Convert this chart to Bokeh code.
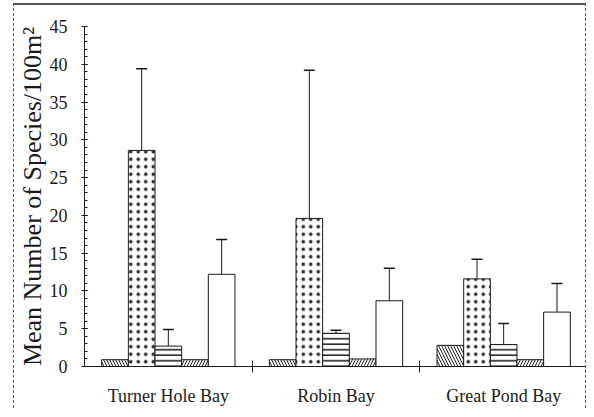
from bokeh.plotting import figure
from bokeh.models import Range1d, FixedTicker, SingleIntervalTicker, ColumnDataSource, Whisker, TeeHead
from bokeh.embed import file_html
from bokeh.resources import INLINE

# ---- data ----
sites = ["Turner Hole Bay", "Robin Bay", "Great Pond Bay"]
hatched_back = [0.9, 0.9, 2.8]
dotted = [28.6, 19.6, 11.6]
dotted_err = [10.8, 19.6, 2.6]
lined = [2.7, 4.4, 2.9]
lined_err = [2.2, 0.4, 2.8]
hatched_fwd = [0.9, 1.0, 0.9]
open_bar = [12.2, 8.7, 7.2]
open_err = [4.6, 4.3, 3.8]
y_ticks_major = 5

series = [hatched_back, dotted, lined, hatched_fwd, open_bar]
errors = [None, dotted_err, lined_err, None, open_err]

# ---- styles ----
patterns = ["\\", ".", "-", "/", " "]
hscales = [6, 7.5, 5.5, 6, 6]
hweights = [1, 0.9, 1.6, 1, 1]
hcolors = ["#222", "#333", "#222", "#222", "#222"]
bar_w = 0.159
FONT = "Liberation Serif"
INK = "#1a1a1a"

p = figure(width=573, height=405, x_range=Range1d(0, 3), y_range=Range1d(0, 45),
           output_backend="svg", toolbar_location=None,
           min_border_left=67, min_border_right=0, min_border_top=21, min_border_bottom=44)
p.margin = (3, 0, 0, 13)
p.styles = {"border-top": "2px solid #555", "border-left": "1px dashed #555",
            "border-right": "1px dashed #555"}
p.outline_line_color = None
p.grid.visible = False
p.background_fill_color = "white"
p.border_fill_color = "white"

for k, (vals, errs) in enumerate(zip(series, errors)):
    xs = [i + 0.5 + (k - 2) * bar_w for i in range(len(sites))]
    src = ColumnDataSource(dict(x=xs, top=vals))
    p.vbar(x="x", top="top", width=bar_w, bottom=0, source=src,
           fill_color="white", line_color=INK, line_width=1,
           hatch_pattern=patterns[k], hatch_color=hcolors[k],
           hatch_scale=hscales[k], hatch_weight=hweights[k])
    if errs is not None:
        esrc = ColumnDataSource(dict(x=xs, lower=vals, upper=[v + e for v, e in zip(vals, errs)]))
        w = Whisker(base="x", lower="lower", upper="upper", source=esrc,
                    line_color=INK, line_width=1,
                    upper_head=TeeHead(size=11, line_color=INK, line_width=1.5),
                    lower_head=None)
        p.add_layout(w)

# y axis
yax = p.yaxis[0]
yax.ticker = SingleIntervalTicker(interval=y_ticks_major, num_minor_ticks=5)
yax.axis_label = "Mean Number of Species/100m²"
yax.axis_label_text_font = FONT
yax.axis_label_text_font_size = "26px"
yax.axis_label_text_font_style = "normal"
yax.axis_label_text_color = INK
yax.axis_label_standoff = 0
yax.major_label_text_font = FONT
yax.major_label_text_font_size = "18px"
yax.major_label_text_color = INK
yax.major_label_standoff = 14
yax.major_tick_in = 3
yax.major_tick_out = 3
yax.minor_tick_in = 3
yax.minor_tick_out = 0
yax.axis_line_color = INK
yax.major_tick_line_color = INK
yax.minor_tick_line_color = INK

# x axis
xax = p.xaxis[0]
xax.ticker = FixedTicker(ticks=[0.5, 1.5, 2.5], minor_ticks=[1, 2])
xax.major_label_overrides = {0.5: sites[0], 1.5: sites[1], 2.5: sites[2]}
xax.major_label_text_font = FONT
xax.major_label_text_font_size = "18px"
xax.major_label_text_color = INK
xax.major_label_standoff = 13
xax.major_tick_line_color = None
xax.major_tick_in = 0
xax.major_tick_out = 0
xax.minor_tick_in = 6
xax.minor_tick_out = 6
xax.minor_tick_line_color = INK
xax.axis_line_color = INK

open("out.html", "w").write(file_html(p, INLINE))
